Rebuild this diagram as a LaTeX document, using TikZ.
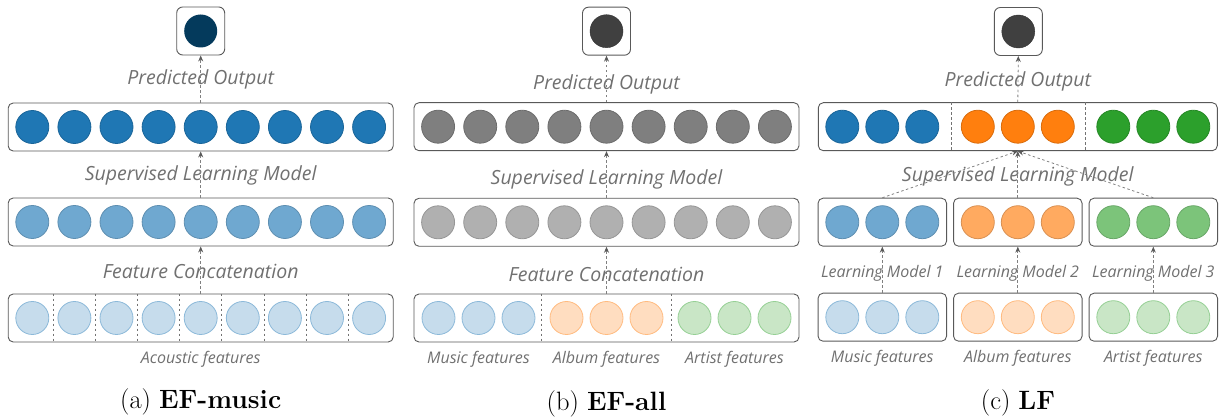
\documentclass[tikz,border=0pt]{standalone}
\usepackage{fontspec}
\newfontfamily\labelfont{Open Sans}
\usetikzlibrary{arrows.meta, positioning, calc}

\definecolor{blue1}{HTML}{1F77B4}
\definecolor{blue2}{HTML}{6FA8D0}
\definecolor{blue3}{HTML}{C6DCEC}
\definecolor{orange1}{HTML}{FF7F0E}
\definecolor{orange2}{HTML}{FFAA60}
\definecolor{orange3}{HTML}{FFDDC0}
\definecolor{green1}{HTML}{2CA02C}
\definecolor{green2}{HTML}{7CC47A}
\definecolor{green3}{HTML}{C9E6C6}
\definecolor{gray1}{HTML}{7F7F7F}
\definecolor{gray2}{HTML}{B0B0B0}
\definecolor{navy}{HTML}{043A5C}
\definecolor{darkout}{HTML}{404040}
\definecolor{textgray}{HTML}{707070}

\tikzset{
  layer/.style={draw=black!65, rounded corners=5pt, line width=0.9pt, inner sep=0pt,
    minimum height=48pt, minimum width=#1},
  layer/.default=385pt,
  outbox/.style={draw=black!65, rounded corners=6pt, line width=0.9pt, inner sep=0pt,
    minimum width=48pt, minimum height=48pt},
  unit/.style={circle, inner sep=0pt, minimum size=33pt, line width=0.8pt, fill=#1, draw=#1!85!black},
  softunit/.style={circle, inner sep=0pt, minimum size=33pt, line width=0.8pt, fill=#13, draw=#12!80},
  sep/.style={draw=black!55, dash pattern=on 2.5pt off 2.5pt, line width=0.7pt},
  flow/.style={draw=black!50, dash pattern=on 2.5pt off 2.5pt, line width=0.8pt,
    -{Stealth[length=6pt, width=5pt, color=black!65]}},
  lbl/.style={font=\labelfont\itshape\fontsize{19.5}{23}\selectfont, text=textgray, inner sep=0pt},
  sublbl/.style={font=\labelfont\itshape\fontsize{16}{19}\selectfont, text=textgray, inner sep=0pt},
  caption/.style={font=\fontsize{26.5}{31}\selectfont, inner sep=0pt}
}

\begin{document}
\begin{tikzpicture}[x=1pt, y=-1pt]
\useasboundingbox (0,0) rectangle (1229,419);

% (a) early fusion, music only
\node[outbox] (a-out) at (200.7,31) {};
\node[circle, inner sep=0pt, minimum size=33pt, fill=navy] at (a-out) {};
\node[lbl] (a-po) at (200.7,79.5) {Predicted Output};
\node[layer] (a-top) at (200.7,127) {};
\node[lbl] (a-slm) at (200.7,175) {Supervised Learning Model};
\node[layer] (a-mid) at (200.7,222) {};
\node[lbl] (a-fc) at (200.7,271.5) {Feature Concatenation};
\node[layer] (a-in) at (200.7,318) {};
\node[sublbl] (a-ac) at (200.7,359) {Acoustic features};
\foreach \i in {-4,...,4} {
  \node[unit=blue1] (a-top\i) at ($(a-top)+(42.1*\i,0)$) {};
  \node[unit=blue2] (a-mid\i) at ($(a-mid)+(42.1*\i,0)$) {};
  \node[softunit=blue] (a-in\i) at ($(a-in)+(42.1*\i,0)$) {};
}
\foreach \i in {-3.5,-2.5,...,3.5}
  \draw[sep] ($(a-in.north)+(42.1*\i,0)$) -- ($(a-in.south)+(42.1*\i,0)$);
\draw[flow] (a-top.north) -- (a-out.south);
\draw[flow] (a-mid.north) -- (a-top.south);
\draw[flow] (a-in.north) -- (a-mid.south);
\node[caption] (a-cap) at (200.7,402) {(a) \textbf{EF-music}};

% (b) early fusion, all features
\node[outbox] (b-out) at (606.5,31.2) {};
\node[circle, inner sep=0pt, minimum size=33pt, fill=darkout, draw=black!80] at (b-out) {};
\node[lbl] (b-po) at (606.5,84) {Predicted Output};
\node[layer] (b-top) at (606.5,126.7) {};
\node[lbl] (b-slm) at (606.5,179) {Supervised Learning Model};
\node[layer] (b-mid) at (606.5,222.3) {};
\node[lbl] (b-fc) at (606.5,274) {Feature Concatenation};
\node[layer] (b-in) at (606.5,318) {};
\foreach \i in {-4,...,4} {
  \node[unit=gray1] (b-top\i) at ($(b-top)+(42.1*\i,0)$) {};
  \node[unit=gray2] (b-mid\i) at ($(b-mid)+(42.1*\i,0)$) {};
}
\foreach \g/\col/\name [count=\k] in {-128/blue/Music, 0/orange/Album, 128/green/Artist} {
  \foreach \j in {-40,0,40}
    \node[softunit=\col] (b-in\k\j) at ($(b-in)+(\g+\j,0)$) {};
  \node[sublbl] (b-lab\k) at ($(b-in)+(\g,41)$) {\name{} features};
}
\foreach \s in {-65,65}
  \draw[sep] ($(b-in.north)+(\s,0)$) -- ($(b-in.south)+(\s,0)$);
\draw[flow] (b-top.north) -- (b-out.south);
\draw[flow] (b-mid.north) -- (b-top.south);
\draw[flow] (b-in.north) -- (b-mid.south);
\node[caption] (b-cap) at (606.5,403.5) {(b) \textbf{EF-all}};

% (c) late fusion
\node[outbox] (c-out) at (1018.3,31.5) {};
\node[circle, inner sep=0pt, minimum size=33pt, fill=darkout, draw=black!80] at (c-out) {};
\node[lbl] (c-po) at (1017.8,81.5) {Predicted Output};
\node[layer=399pt] (c-top) at (1017.8,126.7) {};
\node[lbl] (c-slm) at (1017.8,176.5) {Supervised Learning Model};
\foreach \g/\col/\name [count=\k] in {-135.5/blue/Music, 0/orange/Album, 135.5/green/Artist} {
  \node[layer=128.5pt] (c-mid\k) at ($(c-top)+(\g,95.5)$) {};
  \node[layer=128.5pt] (c-in\k) at ($(c-top)+(\g,190.5)$) {};
  \foreach \j in {-40,0,40} {
    \node[unit=\col1] (c-top\k\j) at ($(c-top)+(\g+\j,0)$) {};
    \node[unit=\col2] (c-mid\k\j) at ($(c-mid\k)+(\j,0)$) {};
    \node[softunit=\col] (c-in\k\j) at ($(c-in\k)+(\j,0)$) {};
  }
  \node[sublbl] (c-lm\k) at ($(c-mid\k)+(0,51)$) {Learning Model \k};
  \node[sublbl] (c-lab\k) at ($(c-in\k)+(0,41)$) {\name{} features};
  \draw[flow] (c-in\k.north) -- (c-mid\k.south);
  \draw[flow] (c-mid\k.north) -- (c-top.south);
}
\foreach \s in {-66,67.5}
  \draw[sep] ($(c-top.north)+(\s,0)$) -- ($(c-top.south)+(\s,0)$);
\draw[flow] (c-top.north) -- (c-out.south);
\node[caption] (c-cap) at (1018,402.5) {(c) \textbf{LF}};
\end{tikzpicture}
\end{document}
